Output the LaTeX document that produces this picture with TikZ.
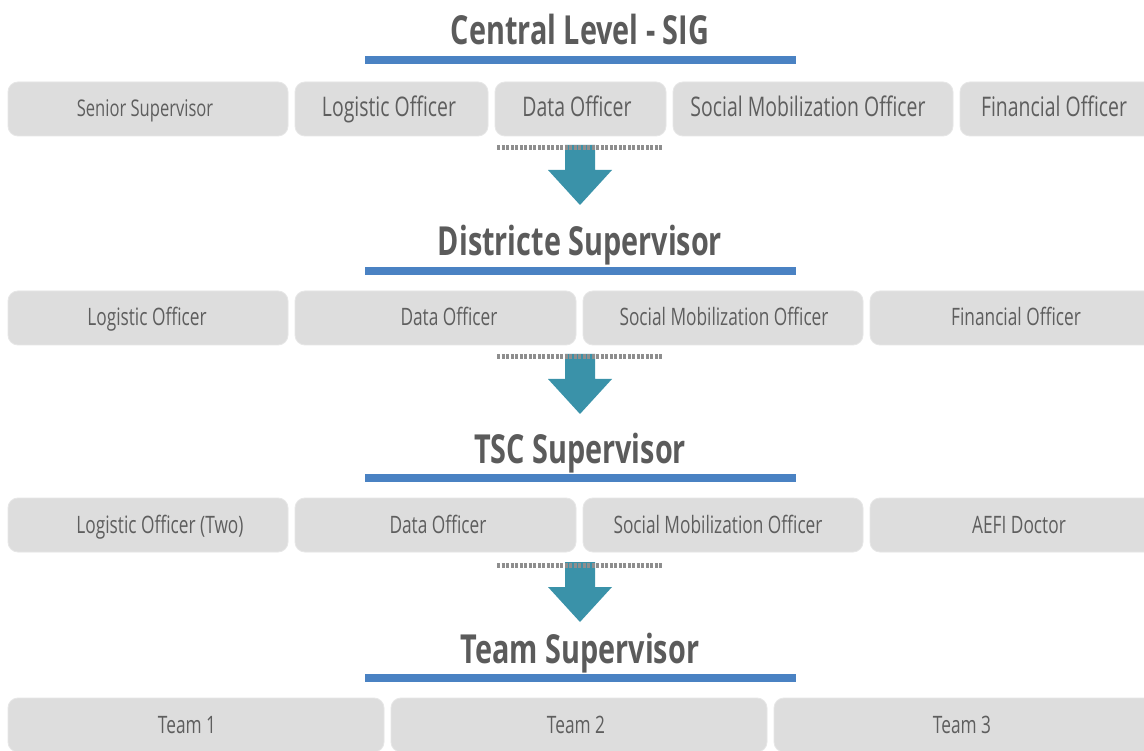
\documentclass[tikz,border=0pt]{standalone}
\usepackage{fontspec}
\usetikzlibrary{calc}
\setmainfont{Open Sans}[FakeStretch=0.72]
\begin{document}
\begin{tikzpicture}[x=1pt,y=-1pt,
  role/.style={fill=boxgray,draw=boxedge,line width=0.8pt,rounded corners=10pt},
  roletext/.style={text=txtgray,anchor=base},
  level/.style={text=ttlgray,anchor=base,font=\fontsize{40}{44}\selectfont\bfseries},
  rule/.style={fill=ruleblue},
  sep/.style={draw=dotgray,line width=5pt,dash pattern=on 3pt off 1.5pt},
  flow/.style={fill=arrowteal}]
\definecolor{boxgray}{HTML}{DDDDDD}
\definecolor{boxedge}{HTML}{E6E6E6}
\definecolor{txtgray}{HTML}{5E5E5E}
\definecolor{ttlgray}{HTML}{5B5B5B}
\definecolor{ruleblue}{HTML}{4A82C3}
\definecolor{dotgray}{HTML}{8E8E8E}
\definecolor{arrowteal}{HTML}{3A92A9}
\useasboundingbox (0,0) rectangle (1144,751);
\fill[white] (0,0) rectangle (1144,751);

% a titled level: heading on its baseline, blue rule underneath
\newcommand\levelhead[3]{%
  \node[level] (#1) at (580,#2) {#3};
  \fill[rule] (365,#2+11) rectangle (796,#2+19);}
% a role box from x1 to x2 at row top y, label centred at x with a text size
\newcommand\rolebox[7]{%
  \draw[role] (#2,#4) rectangle (#3,#4+54);
  \node[roletext,font=\fontsize{#6}{28}\selectfont] (#1) at (#7,#4+35) {#5};}
% dotted separator with a downward block arrow
\newcommand\downflow[2]{%
  \coordinate (#1) at (580,#2);
  \fill[flow] ($(#1)+(-15,0)$) -- ($(#1)+(15,0)$) -- ($(#1)+(15,25)$)
     -- ($(#1)+(32,25)$) -- ($(#1)+(0,60)$) -- ($(#1)+(-32,25)$)
     -- ($(#1)+(-15,25)$) -- cycle;
  \draw[sep] ($(#1)+(-83,3)$) -- ($(#1)+(82,3)$);}

% Central level
\levelhead{central}{45}{Central Level - SIG}
\rolebox{c1}{8}{288}{82}{Senior Supervisor}{23}{145}
\rolebox{c2}{295}{488}{82}{Logistic Officer}{27}{389}
\rolebox{c3}{495}{666}{82}{Data Officer}{27}{577}
\rolebox{c4}{673}{953}{82}{Social Mobilization Officer}{27}{808}
\rolebox{c5}{960}{1160}{82}{Financial Officer}{27}{1054}
\downflow{a1}{145}

% District level
\levelhead{district}{256}{Districte Supervisor}
\rolebox{d1}{8}{288}{291}{Logistic Officer}{24}{147}
\rolebox{d2}{295}{576}{291}{Data Officer}{24}{449}
\rolebox{d3}{583}{863}{291}{Social Mobilization Officer}{24}{724}
\rolebox{d4}{870}{1160}{291}{Financial Officer}{24}{1016}
\downflow{a2}{354}

% TSC level
\levelhead{tsc}{463}{TSC Supervisor}
\rolebox{t1}{8}{288}{498}{Logistic Officer (Two)}{24}{160}
\rolebox{t2}{295}{576}{498}{Data Officer}{24}{438}
\rolebox{t3}{583}{863}{498}{Social Mobilization Officer}{24}{718}
\rolebox{t4}{870}{1160}{498}{AEFI Doctor}{24}{1019}
\downflow{a3}{562}

% Team level
\levelhead{team}{663}{Team Supervisor}
\rolebox{m1}{8}{384}{698}{Team 1}{24}{187}
\rolebox{m2}{391}{767}{698}{Team 2}{24}{576}
\rolebox{m3}{774}{1160}{698}{Team 3}{24}{962}
\end{tikzpicture}
\end{document}
